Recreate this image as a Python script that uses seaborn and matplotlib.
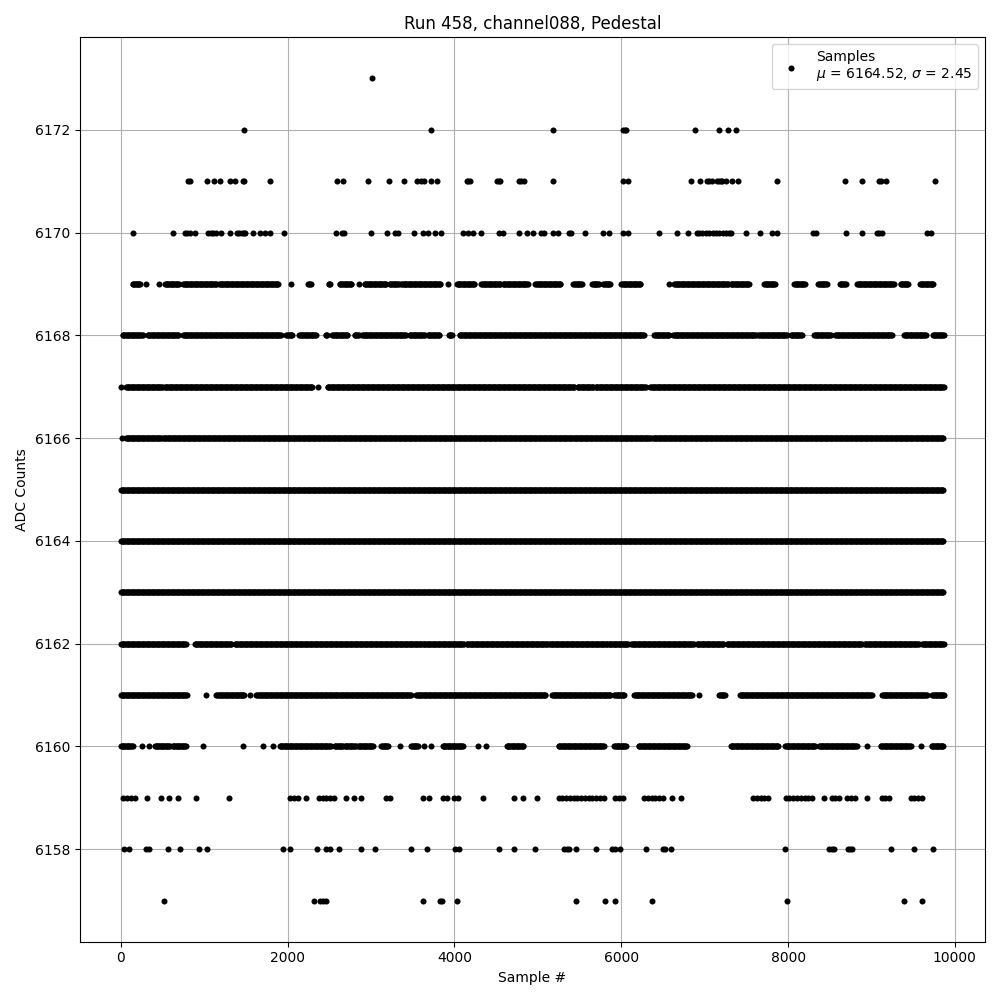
import matplotlib
matplotlib.use("Agg")
import matplotlib.pyplot as plt
import numpy as np
import pandas as pd
import seaborn as sns

# ── Data (sample index ranges per ADC level) ─────────────────────────────────
# isolated samples
LEVEL_6173 = [3010]
LEVEL_6172 = [1473, 3713, 5177, 6016, 6044, 6056, 6878, 7177, 7285, 7381]
LEVEL_6171 = [810, 830, 1038, 1118, 1190, 1306, 1369, 1460, 1480, 1788, 2587,
              2663, 2962, 3214, 3393, 3545, 3597, 3633, 3717, 3789, 4144, 4160,
              4180, 4511, 4530, 4547, 4778, 4800, 4834, 5177, 6024, 6080, 6830,
              6938, 7022, 7054, 7086, 7153, 7174, 7194, 7213, 7254, 7333, 7398,
              7872, 8686, 8890, 9090, 9114, 9177, 9764]
LEVEL_6170 = [147, 626, 770, 794, 826, 886, 1046, 1078, 1105, 1138, 1198, 1309,
              1386, 1417, 1446, 1473, 1493, 1584, 1669, 1728, 1788, 1956, 2578,
              2650, 2674, 2998, 3190, 3285, 3326, 3513, 3621, 3681, 3765, 3836,
              4104, 4159, 4219, 4315, 4539, 4583, 4778, 4871, 4938, 5042, 5069,
              5186, 5246, 5369, 5398, 5561, 5785, 5848, 6021, 6084, 6447, 6667,
              6803, 6902, 6935, 6967, 7015, 7054, 7094, 7135, 7174, 7214, 7254,
              7294, 7321, 7501, 7669, 7808, 7872, 8300, 8332, 8699, 8890, 9066,
              9090, 9130, 9661, 9716]
LEVEL_6158 = [40, 99, 296, 335, 567, 706, 940, 1030, 1944, 2028, 2351, 2463,
              2503, 2614, 2878, 3042, 3473, 3669, 4012, 4048, 4530, 4719, 4970,
              5317, 5350, 5377, 5453, 5692, 5889, 5920, 5985, 6291, 6495, 6527,
              6595, 7964, 8491, 8523, 8555, 8715, 8739, 8763, 9237, 9513, 9740]
LEVEL_6157 = [519, 2315, 2391, 2423, 2463, 3621, 3832, 3853, 4028, 5453, 5800,
              5920, 6363, 7992, 9393, 9609]

# runs of consecutive samples (start, end)
RUNS_6169 = [(140, 236), (299, 299), (459, 459), (527, 698), (746, 1146),
             (1177, 1896), (2044, 2044), (2248, 2279), (2491, 2519), (2623, 2763),
             (2854, 2854), (2922, 3182), (3222, 3341), (3362, 3841), (3920, 3920),
             (4028, 4240), (4320, 4559), (4578, 4878), (4970, 5278), (5425, 5529),
             (5649, 5737), (5785, 5865), (6000, 6236), (6575, 6575), (6635, 7293),
             (7313, 7533), (7713, 7845), (8072, 8204), (8364, 8465), (8620, 8699),
             (8827, 9269), (9349, 9441), (9581, 9748)]
RUNS_6168 = [(20, 267), (320, 698), (746, 1925), (1985, 2064), (2136, 2344),
             (2455, 2483), (2535, 2722), (2802, 2854), (2894, 3421), (3461, 3641),
             (3680, 3820), (3932, 3972), (4060, 6275), (6395, 6575), (6623, 7613),
             (7645, 7992), (8032, 8164), (8311, 8511), (8563, 9249), (9389, 9649),
             (9737, 9868)]
RUNS_6167 = [(0, 0), (60, 505), (525, 2295), (2360, 2360), (2478, 5442),
             (5475, 5672), (5692, 6295), (6347, 9868)]
RUNS_6166 = [(13, 13), (60, 492), (511, 6360), (6380, 9868)]
RUNS_6165 = [(0, 9868)]
RUNS_6164 = [(0, 9868)]
RUNS_6163 = [(0, 9868)]
RUNS_6162 = [(0, 787), (885, 1325), (1364, 3606), (3620, 4118), (4144, 5115),
             (5134, 5836), (5849, 6085), (6118, 6872), (6905, 7226), (7265, 8885),
             (8918, 9573), (9606, 9868)]
RUNS_6161 = [(0, 794), (1018, 1018), (1146, 1485), (1545, 1545), (1625, 3481),
             (3541, 5098), (5170, 5877), (5916, 6036), (6156, 6854), (6934, 6934),
             (7174, 7246), (7422, 9010), (9130, 9668), (9728, 9868)]
RUNS_6160 = [(0, 140), (255, 255), (339, 339), (407, 595), (619, 787), (986, 986),
             (1465, 1465), (1705, 1705), (1824, 1824), (1904, 2523), (2563, 2663),
             (2683, 2814), (2842, 3022), (3122, 3202), (3350, 3350), (3481, 3561),
             (3629, 3629), (3721, 3721), (3860, 4100), (4279, 4279), (4380, 4380),
             (4627, 4830), (5249, 5796), (5916, 6064), (6207, 6794), (7313, 7892),
             (7964, 8331), (8371, 8830), (8950, 8950), (9110, 9470), (9589, 9589),
             (9721, 9868)]
# 6159 is a dotted row: runs are sparsely populated
RUNS_6159 = [(28, 180), (315, 315), (479, 479), (579, 579), (686, 686), (906, 906),
             (1297, 1297), (2032, 2144), (2216, 2216), (2375, 2575), (2703, 2703),
             (2794, 2794), (2882, 2882), (3182, 3261), (3621, 3621), (3693, 3693),
             (3860, 3920), (4000, 4068), (4339, 4339), (4719, 4719), (4818, 4818),
             (4986, 4986), (5249, 5824), (5928, 6056), (6275, 6535), (6607, 6607),
             (6715, 6715), (7581, 7781), (7972, 8323), (8431, 8431), (8523, 8631),
             (8711, 8811), (8950, 8950), (9122, 9249), (9470, 9609)]

TITLE = "Run 458, channel088, Pedestal"
LABEL = "Samples\n$\\mu$ = 6164.52, $\\sigma$ = 2.45"


# ── Build the sample table ───────────────────────────────────────────────────
def expand(runs, step):
    return np.concatenate([np.arange(a, b + 1, step) for a, b in runs])


frames = []
for level, pts in [(6173, LEVEL_6173), (6172, LEVEL_6172), (6171, LEVEL_6171),
                   (6170, LEVEL_6170), (6158, LEVEL_6158), (6157, LEVEL_6157)]:
    frames.append(pd.DataFrame({"sample": pts, "adc": level}))

for level, runs in [(6169, RUNS_6169), (6168, RUNS_6168), (6167, RUNS_6167),
                    (6166, RUNS_6166), (6165, RUNS_6165), (6164, RUNS_6164),
                    (6163, RUNS_6163), (6162, RUNS_6162), (6161, RUNS_6161),
                    (6160, RUNS_6160)]:
    frames.append(pd.DataFrame({"sample": expand(runs, 10), "adc": level}))

frames.append(pd.DataFrame({"sample": expand(RUNS_6159, 45), "adc": 6159}))

df = pd.concat(frames, ignore_index=True).sort_values("sample")

# ── Plot ─────────────────────────────────────────────────────────────────────
fig, ax = plt.subplots(figsize=(10, 10))
sns.scatterplot(data=df, x="sample", y="adc", color="black", s=19,
                linewidth=0, label=LABEL, ax=ax)
ax.set_axisbelow(True)
ax.grid(True)
ax.set_title(TITLE)
ax.set_xlabel("Sample #")
ax.set_ylabel("ADC Counts")
ax.legend(loc="upper right")
plt.tight_layout()
plt.savefig("out.png", dpi=100)
